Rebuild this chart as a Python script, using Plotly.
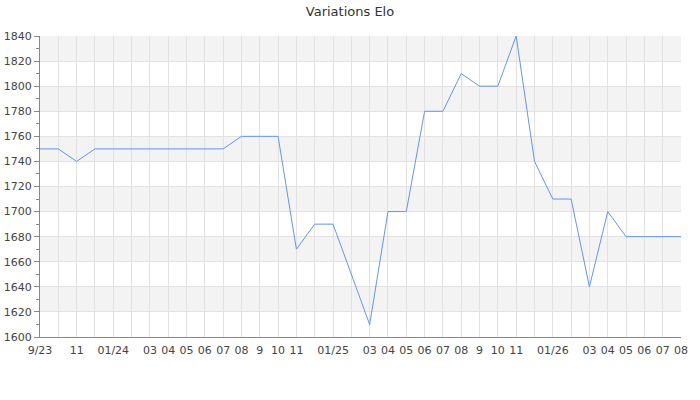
import plotly.graph_objects as go

months = ["2023-09","2023-10","2023-11","2023-12","2024-01","2024-02","2024-03","2024-04",
          "2024-05","2024-06","2024-07","2024-08","2024-09","2024-10","2024-11","2024-12",
          "2025-01","2025-02","2025-03","2025-04","2025-05","2025-06","2025-07","2025-08",
          "2025-09","2025-10","2025-11","2025-12","2026-01","2026-02","2026-03","2026-04",
          "2026-05","2026-06","2026-07","2026-08"]
elo = [1750,1750,1740,1750,1750,1750,1750,1750,1750,1750,1750,1760,1760,1760,1670,1690,
       1690,1650,1610,1700,1700,1780,1780,1810,1800,1800,1840,1740,1710,1710,1640,1700,
       1680,1680,1680,1680]
tick_labels = ["9/23","","11","","01/24","","03","04","05","06","07","08","9","10","11","",
               "01/25","","03","04","05","06","07","08","9","10","11","","01/26","","03","04",
               "05","06","07","08"]
y_min, y_max, y_step = 1600, 1840, 20

fig = go.Figure()
fig.add_trace(go.Scatter(x=months, y=elo, mode="lines",
                         line=dict(color="#6495ED", width=1), hoverinfo="x+y"))

shapes = []
for k, lo in enumerate(range(y_max - y_step, y_min - 1, -y_step)):
    if k % 2 == 0:
        shapes.append(dict(type="rect", xref="paper", yref="y", x0=0, x1=1, y0=lo, y1=lo + y_step,
                           fillcolor="#f3f3f3", line=dict(width=0), layer="below"))

fig.update_layout(
    width=700, height=400,
    margin=dict(l=40, r=19, t=36, b=63, autoexpand=False),
    paper_bgcolor="white", plot_bgcolor="white",
    font=dict(family="DejaVu Sans", size=11, color="#444"),
    title=dict(text="Variations Elo", x=0.5, xanchor="center", xref="container",
               yref="container", y=1 - 11.5 / 400, yanchor="middle",
               font=dict(size=13, color="#333")),
    showlegend=False,
    shapes=shapes,
    xaxis=dict(type="category", range=[0, len(months) - 1], tickmode="array",
               tickvals=months, ticktext=tick_labels, showgrid=True, gridcolor="#e2e2e2",
               gridwidth=1, showline=True, linecolor="#888", linewidth=1, ticks="",
               ticklabelstandoff=3,
               tickangle=0, zeroline=False, automargin=False, layer="below traces"),
    yaxis=dict(range=[y_min, y_max], dtick=y_step, tick0=y_min, showgrid=True,
               gridcolor="#e2e2e2", showline=True, linecolor="#888", linewidth=1,
               ticks="outside", ticklen=5, tickcolor="#888", zeroline=False, automargin=False,
               minor=dict(dtick=10, ticks="outside", ticklen=3, tickcolor="#888", showgrid=False)),
)

fig.write_html("out.html", config={"displayModeBar": False},
               post_script="document.body.style.margin='0';document.body.style.overflow='hidden';")
